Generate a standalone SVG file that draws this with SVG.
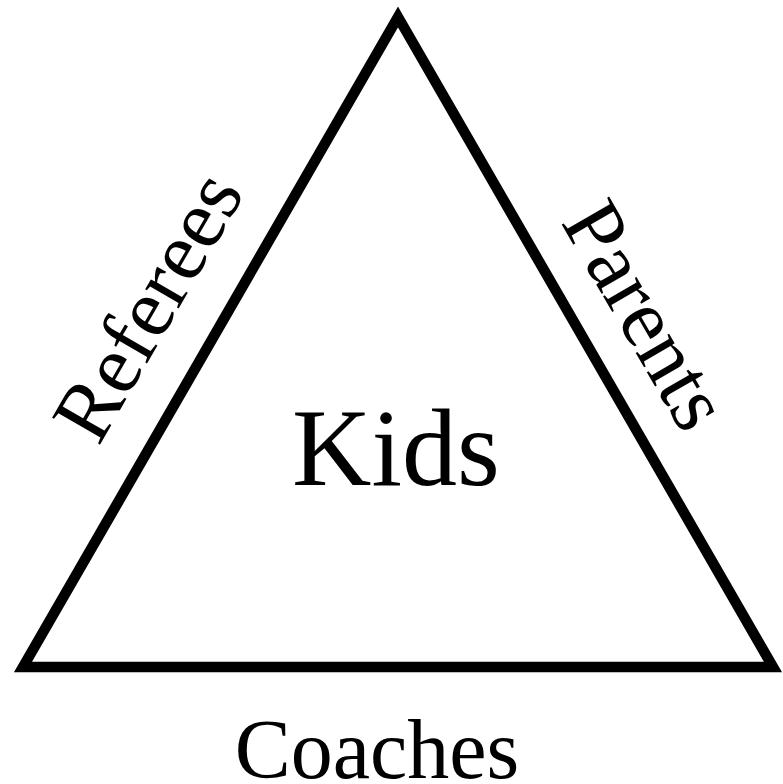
<svg xmlns="http://www.w3.org/2000/svg" width="783" height="784" viewBox="0 0 783 784">
<style>
.lbl{font-family:"Liberation Serif","Times New Roman",serif;fill:#000;text-anchor:middle}
.edge{fill:none;stroke:#000;stroke-width:10.5;stroke-linejoin:miter;stroke-miterlimit:10}
</style>
<rect width="783" height="784" fill="#fff"/>
<g id="connectors">
<path class="edge" d="M398,17 L773,667 L23,667 Z"/>
</g>
<g id="kids"><text class="lbl" x="396" y="485" font-size="110">Kids</text></g>
<g id="referees"><text class="lbl" font-size="84" transform="translate(172,320) rotate(-60)">Referees</text></g>
<g id="parents"><text class="lbl" font-size="84" transform="translate(622,329) rotate(60)">Parents</text></g>
<g id="coaches"><text class="lbl" x="377" y="778" font-size="84">Coaches</text></g>
</svg>
